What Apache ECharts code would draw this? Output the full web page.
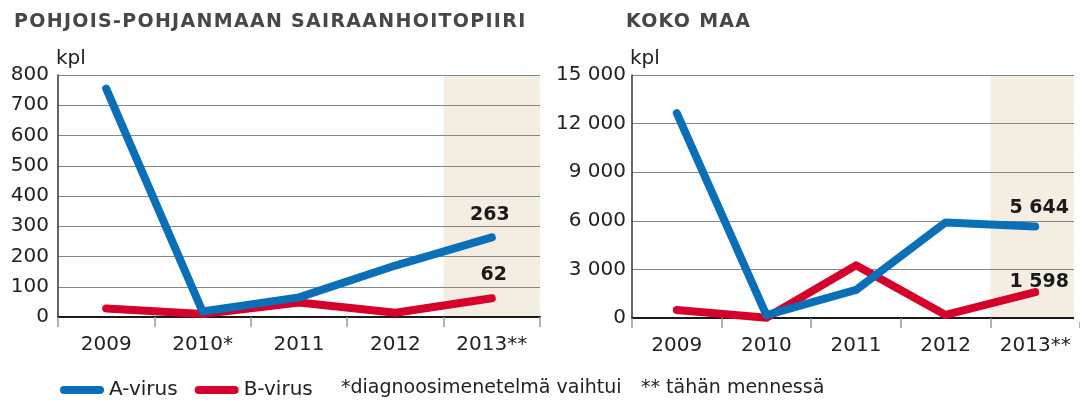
<!DOCTYPE html>
<html>
<head>
<meta charset="utf-8">
<script src="https://cdn.jsdelivr.net/npm/echarts@6/dist/echarts.min.js"></script>
<style>
html,body{margin:0;padding:0;background:#fff;}
#wrap{position:relative;width:1080px;height:403px;overflow:hidden;}
#chart{position:absolute;left:0;top:0;width:1080px;height:403px;}
.ttl{position:absolute;top:8px;font-family:"DejaVu Sans",sans-serif;font-weight:bold;font-size:19px;letter-spacing:1.3px;color:#474747;white-space:nowrap;z-index:5;line-height:24px;}
</style>
</head>
<body>
<div id="wrap">
<div id="chart"></div>
<div class="ttl" style="left:14px">POHJOIS-POHJANMAAN SAIRAANHOITOPIIRI</div>
<div class="ttl" style="left:626px">KOKO MAA</div>
</div>
<script>
// ---- data ----
var leftCategories = ['2009', '2010*', '2011', '2012', '2013**'];
var rightCategories = ['2009', '2010', '2011', '2012', '2013**'];
var leftA = [755, 18, 65, 170, 263];
var leftB = [28, 10, 48, 14, 62];
var rightA = [12650, 180, 1730, 5900, 5644];
var rightB = [500, 20, 3250, 190, 1598];
var leftShade = [null, null, null, null, 800];
var rightShade = [null, null, null, null, 15000];
var seriesNames = ['A-virus', 'B-virus'];
var footnote1 = '*diagnoosimenetelmä vaihtui';
var footnote2 = '** tähän mennessä';
var unitLabel = 'kpl';

var BLUE = '#0a6fb7';
var RED = '#d5002b';
var SHADE = '#f3ede2';
var FONT = '"DejaVu Sans", sans-serif';

function fmt(v) {
  return String(v).replace(/\B(?=(\d{3})+(?!\d))/g, ' ');
}
function withLastLabel(arr, dist, off) {
  return arr.map(function (v, i) {
    if (i === arr.length - 1) {
      return {value: v, label: {show: true, position: 'top', distance: dist, offset: off,
        formatter: function (p) { return fmt(p.value); },
        fontFamily: FONT, fontWeight: 'bold', fontSize: 19, color: '#1a1a1a'}};
    }
    return v;
  });
}

var chart = echarts.init(document.getElementById('chart'), null, {renderer: 'canvas'});

function xAxisCfg(idx, cats) {
  return {
    type: 'category', gridIndex: idx, data: cats, boundaryGap: true,
    axisLine: {show: true, lineStyle: {color: '#1a1a1a', width: 2}},
    axisTick: {show: true, length: 10, interval: 0, lineStyle: {color: '#999', width: 1.5}},
    axisLabel: {interval: 0, fontFamily: FONT, fontSize: 20, color: '#222', margin: 18},
    splitLine: {show: false}
  };
}
function yAxisCfg(idx, max, interval, margin) {
  return {
    type: 'value', gridIndex: idx, min: 0, max: max, interval: interval,
    name: unitLabel, nameLocation: 'end', nameGap: 6,
    nameTextStyle: {align: 'left', fontFamily: FONT, fontSize: 20, color: '#222', padding: [0, 0, 0, -2]},
    axisLine: {show: true, lineStyle: {color: '#333', width: 1.5}},
    axisTick: {show: false},
    axisLabel: {fontFamily: FONT, fontSize: 20, color: '#222', margin: margin, formatter: fmt},
    splitLine: {show: true, lineStyle: {color: '#858585', width: 1}}
  };
}
function lineSeries(name, idx, data, color, z) {
  return {
    name: name, type: 'line', xAxisIndex: idx, yAxisIndex: idx, data: data,
    symbol: 'circle', symbolSize: 2, showSymbol: true, showAllSymbol: true,
    z: z, color: color, itemStyle: {color: color},
    lineStyle: {color: color, width: 8, cap: 'round', join: 'round'},
    emphasis: {disabled: true}, animation: false
  };
}
function shadeSeries(idx, data) {
  return {
    name: 'shade', type: 'bar', xAxisIndex: idx, yAxisIndex: idx, data: data,
    barWidth: '100%', itemStyle: {color: SHADE}, z: -1, silent: true, animation: false
  };
}

var option = {
  backgroundColor: '#fff',
  animation: false,
  textStyle: {fontFamily: FONT},
  grid: [
    {left: 58, top: 75, width: 482, height: 242, containLabel: false},
    {left: 632, top: 75, width: 458, height: 243, containLabel: false}
  ],
  xAxis: [xAxisCfg(0, leftCategories), xAxisCfg(1, rightCategories)],
  yAxis: [yAxisCfg(0, 800, 100, 9), yAxisCfg(1, 15000, 3000, 6)],
  legend: {
    data: seriesNames, left: 55, top: 375, itemGap: 17, itemWidth: 44, itemHeight: 8,
    icon: 'path://M4,0H40A4,4,0,0,1,40,8H4A4,4,0,0,1,4,0Z',
    textStyle: {fontFamily: FONT, fontSize: 20, color: '#222'}, selectedMode: false
  },
  graphic: [
    {type: 'rect', left: 1074, top: 68, shape: {width: 10, height: 254}, style: {fill: '#fff'}, z: 100},
    {type: 'text', left: 341, top: 379, style: {text: footnote1, fill: '#222', font: '19px "DejaVu Sans", sans-serif'}, z: 100},
    {type: 'text', left: 641, top: 379, style: {text: footnote2, fill: '#222', font: '19px "DejaVu Sans", sans-serif'}, z: 100}
  ],
  series: [
    shadeSeries(0, leftShade),
    shadeSeries(1, rightShade),
    lineSeries(seriesNames[1], 0, withLastLabel(leftB, 13, [2, 0]), RED, 3),
    lineSeries(seriesNames[0], 0, withLastLabel(leftA, 12, [-2, 0]), BLUE, 4),
    lineSeries(seriesNames[1], 1, withLastLabel(rightB, 0, [4, 0]), RED, 3),
    lineSeries(seriesNames[0], 1, withLastLabel(rightA, 8, [4, 0]), BLUE, 4)
  ]
};
chart.setOption(option);
</script>
</body>
</html>
